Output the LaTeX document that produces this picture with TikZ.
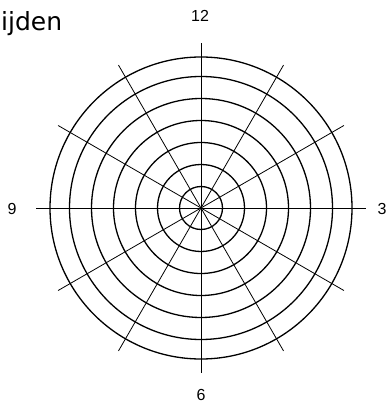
\documentclass[tikz,border=0pt]{standalone}
\usepackage{fontspec}
\setmainfont{Liberation Sans}
\newfontfamily\titlefont{DejaVu Sans}
\begin{document}
\begin{tikzpicture}[x=1pt,y=-1pt,
  ring/.style={draw=black,line width=1.3pt},
  spoke/.style={draw=black,line width=0.8pt},
  hourlabel/.style={inner sep=0pt,font=\fontsize{16}{19}\selectfont}]
\useasboundingbox (0,0) rectangle (388,403);
\coordinate (c) at (201,208);
\foreach \r in {21.5,43.5,65.5,87.5,109.5,131.5,151}
  \draw[ring] (c) circle[radius=\r];
\foreach \a in {0,30,...,330}
  \draw[spoke] (c) -- ++(\a:165);
\node[hourlabel] (h12) at (200,16) {12};
\node[hourlabel] (h3) at (382,209) {3};
\node[hourlabel] (h6) at (201,395) {6};
\node[hourlabel] (h9) at (12,209) {9};
\node[inner sep=0pt,anchor=base west,font=\titlefont\fontsize{25}{29}\selectfont] (title) at (1,31) {ijden};
\end{tikzpicture}
\end{document}
